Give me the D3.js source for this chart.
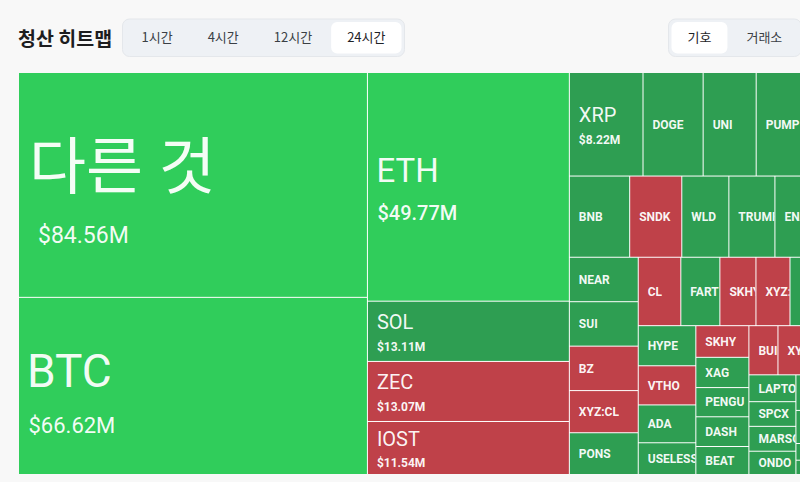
<!DOCTYPE html>
<html><head><meta charset="utf-8">
<script src="https://cdn.jsdelivr.net/npm/d3@7"></script>
<style>
html,body{margin:0;padding:0;background:#f8f8f8;overflow:hidden;}
svg{display:block;}
</style></head><body>
<svg id="chart" width="800" height="482"></svg>
<script>
// ---- data ----
const title = "청산 히트맵";
const timeTabs = ["1시간", "4시간", "12시간", "24시간"];
const viewTabs = ["기호", "거래소"];
const symbols = ["다른 것","BTC","ETH","SOL","ZEC","IOST","XRP","DOGE","UNI","PUMP","LINK","BNB","SNDK","WLD","TRUMP","ENA","AVAX","NEAR","SUI","BZ","XYZ:CL","PONS","CL","FART","SKHY","XYZ:SKHY","ASTER","HYPE","VTHO","ADA","USELESS","SKHY","XAG","PENGU","DASH","BEAT","BUIDL","XYZ:NVDA","TAO","LTC","LAPTOP","SPCX","MARSOL","ONDO","AAVE","ARB","OP","APT","SEI","TIA","JUP"];
const values  = [84.56,66.62,49.77,13.11,13.07,11.54,8.22,6.71,5.92,5.50,5.25,5.28,4.56,4.12,4.03,3.45,3.34,3.30,3.30,3.30,3.13,3.10,3.14,2.88,2.66,2.51,4.61,2.49,2.43,2.35,1.97,1.81,1.73,1.67,1.70,1.60,1.54,1.50,1.30,1.15,1.36,1.25,1.26,1.18,1.15,1.02,1.05,0.97,0.70,0.60,0.59];
const sides   = ["long","long","long","long","short","short","long","long","long","long","long","long","short","long","long","long","long","long","long","short","short","long","short","long","short","short","long","long","short","long","long","short","long","long","long","long","short","short","long","long","long","long","long","long","long","long","long","long","long","long","long"];

// ---- setup ----
const VW = 800, VH = 482;
const svg = d3.select("#chart");
svg.append("rect").attr("width", VW).attr("height", VH).attr("fill", "#f8f8f8");

const KR = "'Noto Sans CJK KR', 'Noto Sans', sans-serif";
const LAT = "Roboto, 'Noto Sans CJK KR', sans-serif";

// title
svg.append("text").attr("x", 18).attr("y", 45.5)
  .style("font-family", KR).style("font-size", "19.5px").style("font-weight", 700)
  .attr("fill", "#1d1d1f").text(title);

// segmented controls
function segmented(x, labels, active) {
  const g = svg.append("g");
  const pad = 16, gap = 3, inset = 3, top = 19, h = 37.5;
  const tmp = g.append("text").style("font-family", KR).style("font-size", "13px");
  const widths = labels.map(l => { tmp.text(l); return tmp.node().getComputedTextLength() + 2 * pad; });
  tmp.remove();
  const total = inset * 2 + d3.sum(widths) + gap * (labels.length - 1);
  g.append("rect").attr("x", x).attr("y", top).attr("width", total).attr("height", h)
    .attr("rx", 7).attr("fill", "#eef1f5").attr("stroke", "#e4e7eb").attr("stroke-width", 1);
  let cx = x + inset;
  labels.forEach((l, i) => {
    if (i === active) {
      g.append("rect").attr("x", cx).attr("y", top + 3).attr("width", widths[i]).attr("height", h - 6)
        .attr("rx", 6).attr("fill", "#ffffff");
    }
    g.append("text").attr("x", cx + widths[i] / 2).attr("y", top + h / 2 + 4.6)
      .attr("text-anchor", "middle")
      .style("font-family", KR).style("font-size", "13px")
      .attr("fill", i === active ? "#1f2328" : "#3a3f45").text(l);
    cx += widths[i] + gap;
  });
}
segmented(122.5, timeTabs, 3);
segmented(668.5, viewTabs, 0);

// ---- treemap ----
const X0 = 19, Y0 = 73, TW = 833, TH = 401;
const data = symbols.map((s, i) => ({ name: s, value: values[i], side: sides[i] }));
const root = d3.hierarchy({ name: "root", children: data }).sum(d => d.value);
d3.treemap().size([TW, TH]).paddingInner(1).tile(d3.treemapSquarify)(root);

const color = d => d.data.side === "short" ? "#bf4149" : (d.data.value >= 40 ? "#30cd5b" : "#2e9e52");

const tiers = [
  { min: 80, nFs: 62, nW: 400, nDx: 10, nDy: 4,  vFs: 23, vW: 400, vDx: 19,  vDy: 58 },
  { min: 60, nFs: 46, nW: 400, nDx: 8,  nDy: 1,  vFs: 22, vW: 400, vDx: 9.5, vDy: 47.5 },
  { min: 30, nFs: 33, nW: 400, nDx: 8.5,nDy: -5, vFs: 20, vW: 500, vDx: 9.5, vDy: 33 },
  { min: 8,  nFs: 20, nW: 400, nDx: 9,  nDy: -2, vFs: 12, vW: 700, vDx: 9,   vDy: 19.5 },
  { min: 0,  nFs: 12, nW: 700, nDx: 9,  nDy: 4.3, vFs: 0 }
];
const tierOf = v => tiers.find(t => v >= t.min);
const fmt = v => d3.format("$.2f")(v) + "M";

const g = svg.append("g").attr("transform", `translate(${X0},${Y0})`);
g.append("rect").attr("width", TW).attr("height", TH).attr("fill", "#ffffff");

const leaves = root.leaves();
const cells = g.selectAll("g.cell").data(leaves).join("g").attr("class", "cell");
cells.append("clipPath").attr("id", (d, i) => "clip" + i)
  .append("rect").attr("x", d => d.x0).attr("y", d => d.y0)
  .attr("width", d => d.x1 - d.x0).attr("height", d => d.y1 - d.y0);
cells.append("rect").attr("x", d => d.x0).attr("y", d => d.y0)
  .attr("width", d => d.x1 - d.x0).attr("height", d => d.y1 - d.y0)
  .attr("fill", color);

// labels only for cells whose label starts inside the visible window
const shown = d => X0 + d.x0 + tierOf(d.value).nDx < VW - 4;
const labels = cells.filter(shown).append("g").attr("clip-path", (d) => `url(#clip${leaves.indexOf(d)})`);
labels.append("text")
  .attr("x", d => d.x0 + tierOf(d.value).nDx)
  .attr("y", d => (d.y0 + d.y1) / 2 + tierOf(d.value).nDy)
  .style("font-family", LAT)
  .style("font-size", d => tierOf(d.value).nFs + "px")
  .style("font-weight", d => tierOf(d.value).nW)
  .attr("fill", "#ffffff").attr("fill-opacity", 0.95)
  .text(d => d.data.name);
labels.filter(d => tierOf(d.value).vFs > 0).append("text")
  .attr("x", d => d.x0 + tierOf(d.value).vDx)
  .attr("y", d => (d.y0 + d.y1) / 2 + tierOf(d.value).vDy)
  .style("font-family", LAT)
  .style("font-size", d => tierOf(d.value).vFs + "px")
  .style("font-weight", d => tierOf(d.value).vW)
  .attr("fill", "#ffffff").attr("fill-opacity", 0.95)
  .text(d => fmt(d.value));
</script>
</body></html>
